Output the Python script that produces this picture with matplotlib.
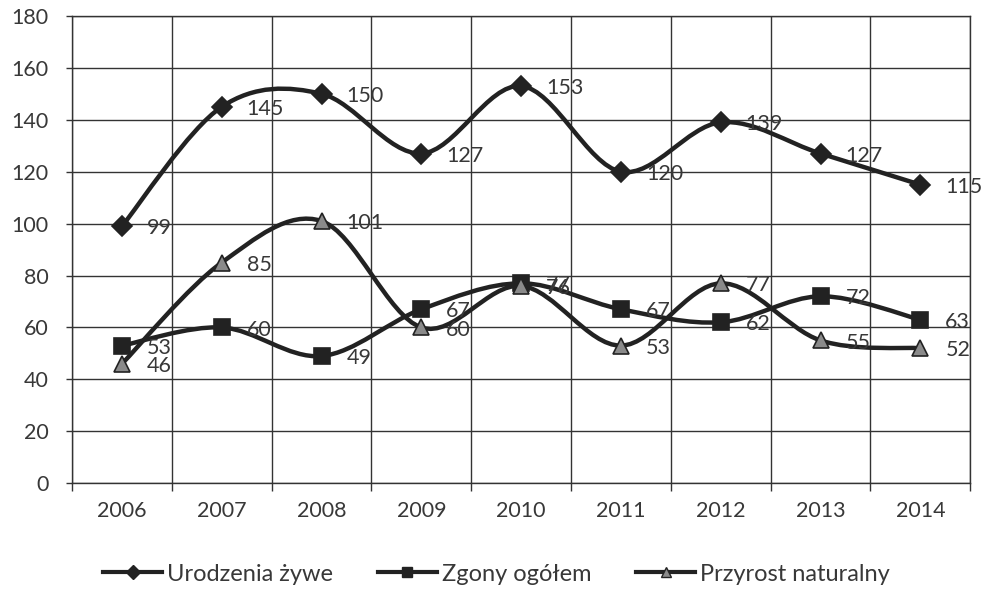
import numpy as np
import matplotlib
matplotlib.use("Agg")
import matplotlib.pyplot as plt
from matplotlib.path import Path
from matplotlib.patches import PathPatch
from matplotlib.lines import Line2D

plt.rcParams['font.family'] = ['Lato', 'DejaVu Sans']

years = ['2006', '2007', '2008', '2009', '2010', '2011', '2012', '2013', '2014']
urodzenia = [99, 145, 150, 127, 153, 120, 139, 127, 115]
zgony = [53, 60, 49, 67, 77, 67, 62, 72, 63]
przyrost = [46, 85, 101, 60, 76, 53, 77, 55, 52]
names = ['Urodzenia żywe', 'Zgony ogółem', 'Przyrost naturalny']

ink = '#222222'
txt = '#383838'


def smooth_path(xs, ys):
    # excel-like smoothed line: bezier segments, catmull-rom control points
    pts = np.column_stack([xs, ys]).astype(float)
    n = len(pts)
    verts = [pts[0]]
    codes = [Path.MOVETO]
    for i in range(n - 1):
        p0 = pts[i - 1] if i > 0 else pts[i]
        p1 = pts[i]
        p2 = pts[i + 1]
        p3 = pts[i + 2] if i + 2 < n else pts[i + 1]
        c1 = p1 + (p2 - p0) / 6
        c2 = p2 - (p3 - p1) / 6
        verts += [c1, c2, p2]
        codes += [Path.CURVE4] * 3
    return Path(verts, codes)


fig = plt.figure(figsize=(9.87, 5.9), dpi=100)
ax = fig.add_axes([0.073, 0.181, 0.910, 0.792])

x = np.arange(len(years))
series = [
    (urodzenia, 'D', ink, 10),
    (zgony, 's', ink, 11),
    (przyrost, '^', '#8a8a8a', 11),
]
for vals, mk, fc, ms in series:
    ax.add_patch(PathPatch(smooth_path(x, vals), fill=False, edgecolor=ink,
                           lw=3.2, zorder=3, capstyle='round', joinstyle='round'))
    ax.plot(x, vals, linestyle='none', marker=mk, markersize=ms,
            markerfacecolor=fc, markeredgecolor=ink, markeredgewidth=1.2, zorder=4)
    for xi, v in zip(x, vals):
        ax.annotate(str(v), (xi, v), xytext=(18, -1.5), textcoords='offset points',
                    ha='left', va='center', fontsize=15.5, color=txt, zorder=5)

ax.set_xlim(-0.5, len(years) - 0.5)
ax.set_ylim(0, 180)
ax.set_yticks(range(0, 181, 20))
ax.set_xticks(np.arange(-0.5, len(years), 1.0))
ax.set_xticklabels([])
ax.set_xticks(x, minor=True)
ax.set_xticklabels(years, minor=True)
ax.tick_params(axis='x', which='minor', length=0, pad=13, labelsize=15.5, labelcolor=txt)
ax.tick_params(axis='x', which='major', length=6, width=1, color='#333333', direction='out')
ax.tick_params(axis='y', length=4, width=1, color='#333333', pad=13, labelsize=15.5, labelcolor=txt)
ax.grid(True, which='major', color='#333333', lw=1)
ax.set_axisbelow(True)
for s in ax.spines.values():
    s.set_color('#333333')
    s.set_linewidth(1)

handles = [Line2D([], [], color=ink, lw=3, marker=mk, markersize=ms * 0.7,
                  markerfacecolor=fc, markeredgecolor=ink)
           for _, mk, fc, ms in series]
fig.legend(handles, names, loc='center', bbox_to_anchor=(0.503, 0.027), ncol=3,
           frameon=False, fontsize=17, handlelength=2.5, handletextpad=0.2,
           columnspacing=1.9, labelcolor=txt)

fig.savefig('out.png', dpi=100, facecolor='white')
